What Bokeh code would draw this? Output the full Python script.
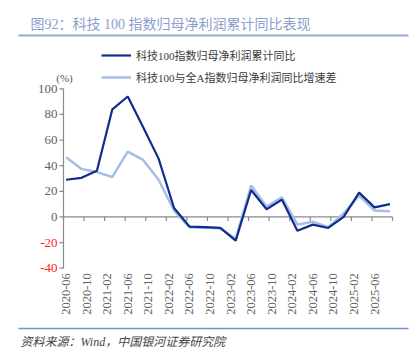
import math
import pandas as pd
from bokeh.plotting import figure
from bokeh.models import Range1d, Legend, LegendItem, Label, ColumnDataSource
from bokeh.core.properties import value
from bokeh.embed import file_html
from bokeh.resources import INLINE

# ---------------- data ----------------
dates = ["2020-06", "2020-09", "2020-12", "2021-03", "2021-06", "2021-09",
         "2021-12", "2022-03", "2022-06", "2022-09", "2022-12", "2023-03", "2023-06",
         "2023-09", "2023-12", "2024-03", "2024-06", "2024-09", "2024-12", "2025-03",
         "2025-06", "2025-09"]
tech100 = [29.0, 30.5, 36.0, 84.0, 94.0, 70.0, 45.5, 7.0, -7.5, -8.0, -8.5,
           -18.5, 21.0, 6.0, 13.5, -10.7, -6.0, -8.6, 0.0, 19.0, 7.5, 10.0]
spread = [46.6, 37.5, 35.0, 31.2, 51.0, 44.5, 29.0, 5.0, -8.0, -8.5, -8.9,
          -17.0, 24.5, 8.0, 15.3, -6.0, -3.7, -8.0, 2.8, 16.6, 5.0, 4.4]
xtick_labels = ["2020-06", "2020-10", "2021-02", "2021-06", "2021-10", "2022-02",
                "2022-06", "2022-10", "2023-02", "2023-06", "2023-10", "2024-02",
                "2024-06", "2024-10", "2025-02", "2025-06"]
axis_end = "2025-10"
yticks = [-40, -20, 0, 20, 40, 60, 80, 100]
series_names = ["科技100指数归母净利润累计同比", "科技100与全A指数归母净利润同比增速差"]
title_text = "图92：科技 100 指数归母净利润累计同比表现"
source_text = "资料来源：Wind，中国银河证券研究院"
unit_text = "(%)"

# ---------------- helpers ----------------
def month_index(s):
    d = pd.Timestamp(s + "-01")
    return (d.year - 2020) * 12 + d.month - 6

x_vals = [month_index(d) + 0.5 for d in dates]
xtick_pos = [month_index(s) + 0.5 for s in xtick_labels]
boundary_ticks = [month_index(s) for s in xtick_labels] + [month_index(axis_end)]
x_lo, x_hi = 0, month_index(axis_end)
y_lo, y_hi = yticks[0], yticks[-1]

FONT = "'Liberation Serif', 'Noto Sans CJK SC', serif"
DARK = "#0f2d8c"
LIGHT = "#a6bde6"
GRAY = "#8a8a8a"
LABEL_GRAY = "#626262"

# canvas layout: the frame fills the whole canvas; the plot area sits inside it
W, H = 416, 356
PL, PR, PT, PB = 63, 392, 88.3, 267.7          # plot-area edges in pixels
XPX = (PR - PL) / (x_hi - x_lo)
YPX = (PB - PT) / (y_hi - y_lo)
x_start = x_lo - PL / XPX
y_end = y_hi + PT / YPX

def px2x(px):
    return x_start + px / XPX

def py2y(py):
    return y_end - py / YPX

p = figure(width=W, height=H, output_backend="svg", toolbar_location=None,
           x_range=Range1d(x_start, x_start + W / XPX),
           y_range=Range1d(y_end - H / YPX, y_end),
           x_axis_location=None, y_axis_location=None,
           min_border=0, min_border_left=0, min_border_right=0,
           min_border_top=0, min_border_bottom=0)
p.outline_line_color = None
p.grid.grid_line_color = None
p.background_fill_color = "white"
p.border_fill_color = "white"

# ---- y axis (line, ticks, coloured labels) ----
p.segment(x0=[x_lo], y0=[y_lo], x1=[x_lo], y1=[y_hi], line_color=GRAY, line_width=1.2)
p.segment(x0=[x_lo] * len(yticks), y0=yticks, x1=[x_lo - 4 / XPX] * len(yticks), y1=yticks,
          line_color=GRAY, line_width=1.2)
ysrc = ColumnDataSource(dict(x=[x_lo] * len(yticks), y=yticks,
                             t=[str(v) for v in yticks],
                             c=["#ff2020" if v < 0 else LABEL_GRAY for v in yticks]))
p.text(x="x", y="y", text="t", source=ysrc, x_offset=-6, text_align="right",
       text_baseline="middle", text_color="c", text_font=value(FONT),
       text_font_size=value("13px"))

# ---- zero line with tick marks ----
p.segment(x0=[x_lo], y0=[0], x1=[x_hi], y1=[0], line_color=GRAY, line_width=1.2)
p.segment(x0=boundary_ticks, y0=[0] * len(boundary_ticks),
          x1=boundary_ticks, y1=[-4 / YPX] * len(boundary_ticks),
          line_color=GRAY, line_width=1.2)

# ---- x tick labels (vertical, below plot area) ----
p.text(x=xtick_pos, y=[py2y(PB + 5)] * len(xtick_pos), text=xtick_labels,
       angle=math.pi / 2, text_align="right", text_baseline="middle",
       text_color=LABEL_GRAY, text_font=value(FONT), text_font_size=value("12.5px"))

# ---- data lines ----
r_light = p.line(x_vals, spread, line_color=LIGHT, line_width=2.5)
r_dark = p.line(x_vals, tech100, line_color=DARK, line_width=2.2)

# ---- legend (location = left / bottom edge of the legend box) ----
legend = Legend(items=[LegendItem(label=series_names[0], renderers=[r_dark]),
                       LegendItem(label=series_names[1], renderers=[r_light])],
                location=(101, H - 85), orientation="vertical",
                padding=0, margin=0, spacing=6, glyph_width=30, glyph_height=16,
                label_height=16, label_standoff=5,
                label_text_font=FONT, label_text_font_size="11px",
                label_text_color="#3a3a3a", background_fill_alpha=0,
                border_line_color=None)
p.add_layout(legend, "center")

# ---- unit, title, rules, source ----
p.add_layout(Label(x=px2x(64), y=py2y(77), text=unit_text, text_align="center",
                   text_baseline="middle", text_font=FONT, text_font_size="11px",
                   text_color="#555555"))
p.add_layout(Label(x=px2x(30), y=py2y(24), text=title_text, text_align="left",
                   text_baseline="middle", text_font=FONT, text_font_size="14px",
                   text_color="#8c9ecb"))
p.segment(x0=[px2x(18)], y0=[py2y(35)], x1=[px2x(408)], y1=[py2y(35)],
          line_color="#93a8d2", line_width=1.8)
p.segment(x0=[px2x(18)], y0=[py2y(328)], x1=[px2x(408)], y1=[py2y(328)],
          line_color="#7090c8", line_width=1.3)
p.add_layout(Label(x=px2x(20), y=py2y(341), text=source_text, text_align="left",
                   text_baseline="middle", text_font=FONT, text_font_size="12px",
                   text_font_style="italic", text_color="#444444"))

open("out.html", "w").write(file_html(p, INLINE))
